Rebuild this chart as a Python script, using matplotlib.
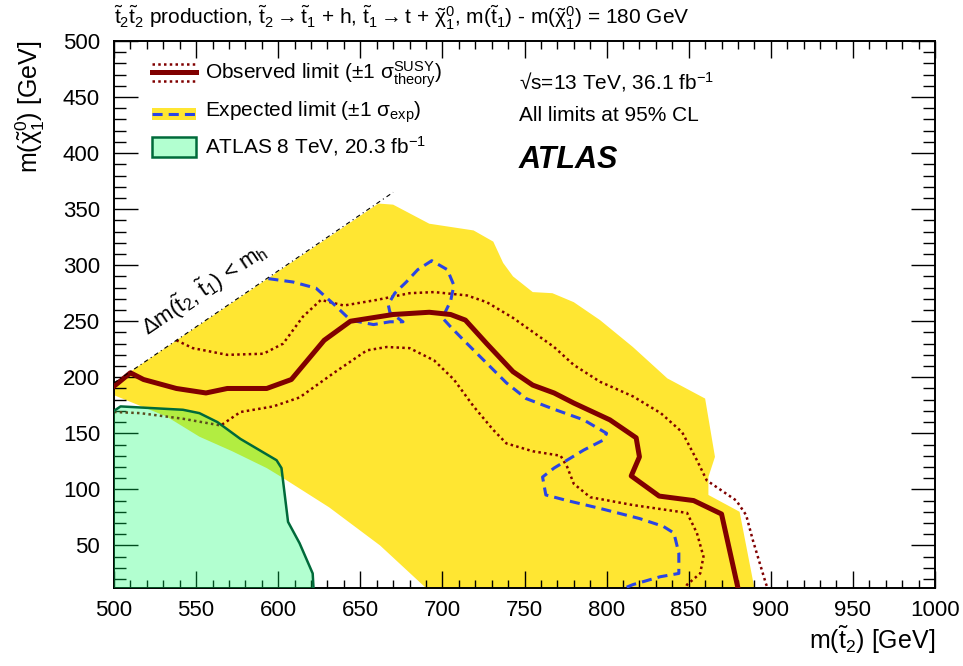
import numpy as np
import matplotlib
matplotlib.use('Agg')
import matplotlib.pyplot as plt
from matplotlib.lines import Line2D
from matplotlib.patches import Patch, Rectangle
from matplotlib.legend_handler import HandlerBase
from matplotlib.ticker import MultipleLocator

plt.rcParams['font.family'] = ['Liberation Sans', 'DejaVu Sans']
plt.rcParams['mathtext.fontset'] = 'custom'
plt.rcParams['mathtext.rm'] = 'Liberation Sans'
plt.rcParams['mathtext.it'] = 'Liberation Sans:italic'
plt.rcParams['mathtext.bf'] = 'Liberation Sans:bold'
plt.rcParams['mathtext.default'] = 'regular'

# expected +-1 sigma band (polygon, GeV)
band_x = [500, 661, 670, 692, 719, 731, 737, 743, 755, 767, 780, 796, 816, 837, 860, 866, 862, 862, 881, 890,
          690, 662, 631, 602, 593, 572, 552, 532, 500]
band_y = [195, 355, 354, 337, 331, 321, 302, 290, 276, 275, 267, 251, 227, 199, 181, 129, 111, 95, 80, 12,
          12, 50, 84, 111, 119, 134, 147, 165, 184]

# observed limit
obs_x = [500, 510, 518, 538, 556, 569, 593, 608, 628, 644, 670, 692, 705, 714, 727, 743, 755, 768, 780, 802,
         818, 820, 815, 832, 853, 870, 880]
obs_y = [192, 204, 198, 190, 186, 190, 190, 198, 233, 250, 256, 258, 256, 251, 230, 205, 193, 186, 177, 162,
         146, 129, 112, 94, 90, 78, 12]

# observed +1 sigma theory
obs_up_x = [538, 548, 569, 591, 603, 615, 626, 640, 660, 680, 695, 715, 727, 743, 768, 780, 796, 816, 833,
            846, 855, 861, 879, 885, 889, 897, 898]
obs_up_y = [233, 226, 220, 221, 230, 254, 269, 264, 269, 275, 276, 273, 267, 253, 227, 211, 196, 183, 168,
            151, 126, 108, 90, 77, 55, 16, 12]

# observed -1 sigma theory
obs_dn_x = [500, 516, 542, 565, 577, 597, 613, 634, 654, 666, 680, 695, 707, 719, 731, 739, 755, 772, 776,
            780, 790, 816, 849, 855, 859, 857, 849, 848]
obs_dn_y = [169, 168, 163, 157, 169, 174, 182, 204, 224, 227, 226, 215, 198, 174, 153, 141, 134, 130, 120,
            105, 93, 86, 79, 61, 40, 25, 15, 12]

# expected limit
exp_x = [594, 609, 623, 634, 644, 658, 668, 676, 668, 667, 671, 678, 685, 693.5, 703, 707, 705, 700, 705, 713,
         727, 739, 751, 767, 786, 800, 798, 786, 768, 761, 763, 776, 796, 820, 834.5, 841, 844, 844, 832.5,
         816, 811]
exp_y = [288, 285, 279.5, 265, 251, 247, 249.5, 249.5, 258, 265, 275, 285, 296, 304, 296, 282, 268, 253, 245,
         233, 212.5, 195, 181, 172, 162, 150, 144, 135, 119, 111, 95, 90, 83, 74, 67, 61, 43, 25, 22, 15, 12]

# ATLAS 8 TeV excluded region
run1_x = [500, 504, 542, 552, 563, 577, 599, 602, 606, 613, 621, 621.5, 500]
run1_y = [170, 174, 171, 168, 160, 145, 126, 119, 71, 52, 25, 12, 12]

# Delta m < m_h boundary
diag_x = [500, 670]
diag_y = [195, 365]

c_yellow = '#ffe632'
c_obs = '#800000'
c_exp = '#2a44e4'
c_green_edge = '#006a3a'
c_green_fill = (0.0, 1.0, 0.4, 0.3)


class ObsHandler(HandlerBase):
    def create_artists(self, legend, orig_handle, xdescent, ydescent, width, height, fontsize, trans):
        yc = height / 2 - ydescent
        off = 0.42 * fontsize
        xs = [-xdescent, width - xdescent]
        thick = Line2D(xs, [yc, yc], color=c_obs, lw=3.6, transform=trans)
        up = Line2D(xs, [yc + off, yc + off], color=c_obs, lw=1.8, ls=(0, (1, 1.3)), transform=trans)
        dn = Line2D(xs, [yc - off, yc - off], color=c_obs, lw=1.8, ls=(0, (1, 1.3)), transform=trans)
        return [thick, up, dn]


class ExpHandler(HandlerBase):
    def create_artists(self, legend, orig_handle, xdescent, ydescent, width, height, fontsize, trans):
        yc = height / 2 - ydescent - 0.2 * fontsize
        h = 0.6 * fontsize
        box = Rectangle((-xdescent, yc - h / 2), width, h, facecolor=c_yellow, edgecolor='none', transform=trans)
        ln = Line2D([-xdescent, width - xdescent], [yc, yc], color=c_exp, lw=2.2, ls=(0, (3.3, 2)),
                    transform=trans)
        return [box, ln]


fig = plt.figure(figsize=(9.63, 6.66), dpi=100)
ax = fig.add_axes([114 / 963, 1 - 588 / 666, (935 - 114) / 963, (588 - 41) / 666])

ax.fill(band_x, band_y, color=c_yellow, lw=0, zorder=1)
ax.plot(obs_up_x, obs_up_y, color=c_obs, lw=1.8, ls=(0, (1, 1.3)), zorder=2)
ax.plot(obs_dn_x, obs_dn_y, color=c_obs, lw=1.8, ls=(0, (1, 1.3)), zorder=2)
ax.plot(exp_x, exp_y, color=c_exp, lw=2.2, ls=(0, (3.3, 2)), zorder=3)
ax.plot(obs_x, obs_y, color=c_obs, lw=3.6, zorder=4)
ax.fill(run1_x, run1_y, color=c_green_fill, lw=0, zorder=5)
ax.plot(run1_x[:-1], run1_y[:-1], color=c_green_edge, lw=1.8, zorder=6)
ax.plot(diag_x, diag_y, color='black', lw=0.8, ls=(0, (4, 3, 1, 3)), zorder=6)

ax.text(555, 279, r'$\Delta$m($\tilde{t}_2$, $\tilde{t}_1$) < m$_h$', fontsize=16, rotation=34,
        ha='center', va='center', rotation_mode='anchor')

ax.set_xlim(500, 1000)
ax.set_ylim(12, 500)
ax.xaxis.set_major_locator(MultipleLocator(50))
ax.xaxis.set_minor_locator(MultipleLocator(10))
ax.yaxis.set_major_locator(MultipleLocator(50))
ax.yaxis.set_minor_locator(MultipleLocator(10))
ax.tick_params(which='both', direction='in', top=True, right=True, width=1, labelsize=16)
ax.tick_params(axis='x', which='major', length=12, pad=9)
ax.tick_params(axis='x', which='minor', length=5.8)
ax.tick_params(axis='y', which='major', length=17, pad=10)
ax.tick_params(axis='y', which='minor', length=8.6)
for s in ax.spines.values():
    s.set_linewidth(1.4)

ax.set_xlabel(r'm($\tilde{t}_2$) [GeV]', fontsize=18, ha='right')
ax.xaxis.set_label_coords(1.0, -0.066)
ax.set_ylabel(r'm($\tilde{\chi}^0_1$) [GeV]', fontsize=18, ha='right')
ax.yaxis.set_label_coords(-0.082, 1.0)

fig.text(114 / 963, 1 - 25 / 666,
         r'$\tilde{t}_2\tilde{t}_2$ production, $\tilde{t}_2 \rightarrow \tilde{t}_1$ + h, '
         r'$\tilde{t}_1 \rightarrow$t + $\tilde{\chi}^0_1$, m($\tilde{t}_1$) - m($\tilde{\chi}^0_1$) = 180 GeV',
         fontsize=15, va='baseline', ha='left')

ax.text(0.493, 0.912, '\u221as=13 TeV, 36.1 fb$^{-1}$', transform=ax.transAxes, fontsize=15, va='baseline')
ax.text(0.493, 0.853, 'All limits at 95% CL', transform=ax.transAxes, fontsize=15, va='baseline')
ax.text(0.493, 0.767, 'ATLAS', transform=ax.transAxes, fontsize=22, fontweight='bold', fontstyle='italic',
        va='baseline')

h_obs = Line2D([], [])
h_exp = Patch()
h_run1 = Patch(facecolor=c_green_fill, edgecolor=c_green_edge, lw=1.8)
ax.legend([h_obs, h_exp, h_run1],
          [r'Observed limit ($\pm$1 $\sigma^{SUSY}_{theory}$)', r'Expected limit ($\pm$1 $\sigma_{exp}$)',
           r'ATLAS 8 TeV, 20.3 fb$^{-1}$'],
          handler_map={h_obs: ObsHandler(), h_exp: ExpHandler()},
          loc='upper left', bbox_to_anchor=(0.046, 0.966), frameon=False, fontsize=15,
          borderpad=0, borderaxespad=0, handlelength=2.1, handleheight=1.1, handletextpad=0.45,
          labelspacing=0.45)

fig.savefig('out.png', dpi=100)
